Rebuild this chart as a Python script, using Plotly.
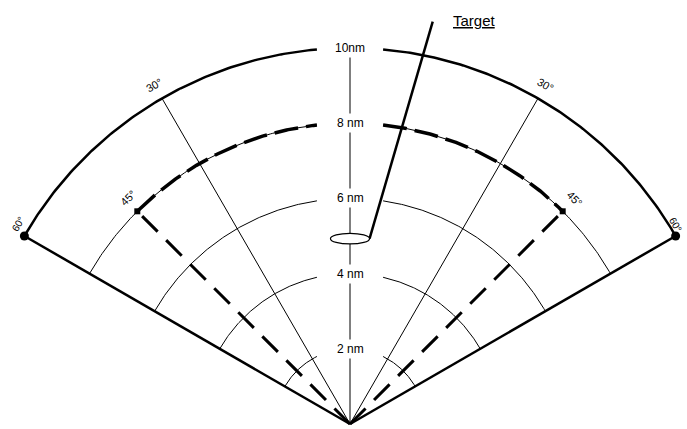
import numpy as np
import plotly.graph_objects as go

# ---- data (nautical miles / degrees from heading) ----
range_rings = [2, 4, 6, 8, 10]
ring_labels = ["2 nm", "4 nm", "6 nm", "8 nm", "10nm"]
sector_half_angle = 60
beam_half_angle = 45
beam_range = 8
bearing_angles = [-30, 30]
max_range = 10
angle_label_text = ["30°", "45°", "60°"]
angle_label_rot = [30, 45, 60]
angle_label_left = [(30, 10.4), (44.5, 8.42), (59, 10.3)]     # (angle, range)
angle_label_right = [(30, 10.4), (45, 8.45), (58.5, 10.15)]   # (angle, range)
target_center = [0.0, 4.93]
target_size = [0.52, 0.14]
target_tail = [2.2, 10.7]
target_label_pos = [3.3, 10.72]

LABEL_GAP = 0.88  # nm half-width of ring gap at label


def pol(r, a):
    a = np.radians(a)
    return r * np.sin(a), r * np.cos(a)


def arc_xy(r, a0, a1, gap=True):
    xs, ys = [], []
    if gap:
        g = np.degrees(np.arcsin(min(LABEL_GAP / r, 1.0)))
        pieces = [(a0, -g), (g, a1)]
    else:
        pieces = [(a0, a1)]
    for s, e in pieces:
        if e <= s:
            continue
        t = np.linspace(s, e, 120)
        x, y = pol(r, t)
        xs += list(x) + [None]
        ys += list(y) + [None]
    return xs, ys


fig = go.Figure()

# thin range rings
for r in range_rings[:-1]:
    x, y = arc_xy(r, -sector_half_angle, sector_half_angle)
    fig.add_trace(go.Scatter(x=x, y=y, mode="lines",
                             line=dict(color="black", width=1)))

# outer ring (thick)
x, y = arc_xy(max_range, -sector_half_angle, sector_half_angle)
fig.add_trace(go.Scatter(x=x, y=y, mode="lines",
                         line=dict(color="black", width=2.5)))

# beam ring (dashed thick)
x, y = arc_xy(beam_range, -beam_half_angle, beam_half_angle)
fig.add_trace(go.Scatter(x=x, y=y, mode="lines",
                         line=dict(color="black", width=3.5, dash="24px,8px")))

# thin bearing lines at +-30
for a in bearing_angles:
    ex, ey = pol(max_range, a)
    fig.add_trace(go.Scatter(x=[0, ex], y=[0, ey], mode="lines",
                             line=dict(color="black", width=1)))

# center line
fig.add_trace(go.Scatter(x=[0, 0], y=[0, max_range], mode="lines",
                         line=dict(color="black", width=1)))

# sector edges (thick solid)
for s in (-1, 1):
    ex, ey = pol(max_range, s * sector_half_angle)
    fig.add_trace(go.Scatter(x=[0, ex], y=[0, ey], mode="lines",
                             line=dict(color="black", width=2.5)))

# beam edges (thick dashed)
for s in (-1, 1):
    ex, ey = pol(beam_range, s * beam_half_angle)
    fig.add_trace(go.Scatter(x=[0, ex], y=[0, ey], mode="lines",
                             line=dict(color="black", width=3, dash="22px,12px")))

# corner markers
mx, my = [], []
for s in (-1, 1):
    px, py = pol(max_range, s * sector_half_angle)
    mx.append(px); my.append(py)
fig.add_trace(go.Scatter(x=mx, y=my, mode="markers",
                         marker=dict(color="black", size=9)))
bx, by = [], []
for s in (-1, 1):
    px, py = pol(beam_range, s * beam_half_angle)
    bx.append(px); by.append(py)
fig.add_trace(go.Scatter(x=bx, y=by, mode="markers",
                         marker=dict(color="black", size=6, symbol="square")))

# target line
fig.add_trace(go.Scatter(x=[target_center[0] + target_size[0], target_tail[0]],
                         y=[target_center[1], target_tail[1]], mode="lines",
                         line=dict(color="black", width=2.5)))

annotations = []
for r, t in zip(range_rings, ring_labels):
    annotations.append(dict(x=0, y=r, text=t, showarrow=False,
                            font=dict(family="Arial", size=12, color="black"),
                            bgcolor="white", borderpad=2))

for t, rot, (al, rl), (ar, rr) in zip(angle_label_text, angle_label_rot,
                                       angle_label_left, angle_label_right):
    for s, a, r in ((-1, al, rl), (1, ar, rr)):
        px, py = pol(r, s * a)
        annotations.append(dict(x=px, y=py, text=t, showarrow=False,
                                textangle=s * rot,
                                font=dict(family="Arial", size=11 if rot != 60 else 10,
                                          color="black")))

annotations.append(dict(x=target_label_pos[0], y=target_label_pos[1],
                        text="<u>Target</u>", showarrow=False,
                        font=dict(family="Arial", size=15, color="black")))

shapes = [dict(type="circle", xref="x", yref="y",
               x0=target_center[0] - target_size[0], x1=target_center[0] + target_size[0],
               y0=target_center[1] - target_size[1], y1=target_center[1] + target_size[1],
               line=dict(color="black", width=1.2), fillcolor="white", layer="above")]

S = 37.6
fig.update_layout(
    width=687, height=429, margin=dict(l=0, r=0, t=0, b=0),
    paper_bgcolor="white", plot_bgcolor="white", showlegend=False,
    xaxis=dict(visible=False, range=[-350 / S, 337 / S], fixedrange=True),
    yaxis=dict(visible=False, range=[-5 / S, 424 / S], fixedrange=True),
    annotations=annotations, shapes=shapes,
)

fig.write_html("out.html", config={"displayModeBar": False},
               post_script="document.body.style.margin='0';document.body.style.overflow='hidden';")
